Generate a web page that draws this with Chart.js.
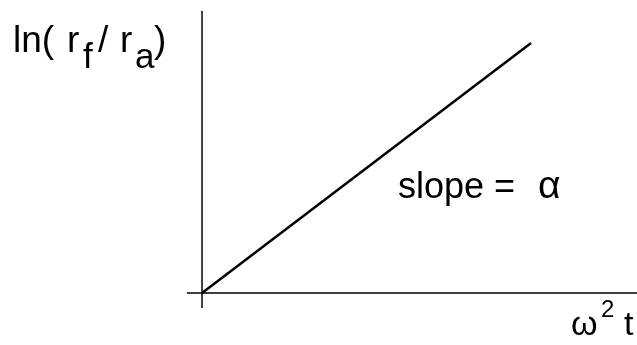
<!DOCTYPE html>
<html>
<head>
<meta charset="utf-8">
<script src="https://cdn.jsdelivr.net/npm/chart.js@4"></script>
<style>
  html, body { margin: 0; padding: 0; background: #fff; }
  #wrap { width: 637px; height: 345px; position: relative; }
</style>
</head>
<body>
<div id="wrap"><canvas id="chart"></canvas></div>
<script>
// schematic: ln(rf/ra) grows linearly with w^2 t
const linePoints = [{ x: 0, y: 0 }, { x: 1, y: 1 }];
const xAxisLine = [{ x: -0.046, y: 0 }, { x: 1.33, y: 0 }];
const yAxisLine = [{ x: 0, y: -0.06 }, { x: 0, y: 1.128 }];
const slopeText = 'slope =';
const slopeSymbol = '\u03b1';

const FONT = '"Liberation Sans", Arial, sans-serif';

// text is drawn by hand so sub/superscripts come out right
function drawRun(ctx, parts) {
  for (const [t, size, x, y] of parts) {
    ctx.font = size + 'px ' + FONT;
    ctx.fillText(t, x, y);
  }
}

const labelsPlugin = {
  id: 'labels',
  afterDraw(chart) {
    const ctx = chart.ctx;
    ctx.save();
    ctx.fillStyle = '#000';
    ctx.textBaseline = 'alphabetic';
    ctx.textAlign = 'left';

    // y title: ln( r_f / r_a)
    drawRun(ctx, [
      ['ln(', 37, 13, 52],
      ['r', 37, 67, 52],
      ['f', 35, 83, 68],
      ['/', 37, 98, 52],
      ['r', 37, 120, 52],
      ['a', 35, 135, 68],
      [')', 37, 154, 52],
    ]);

    // slope label
    drawRun(ctx, [
      [slopeText, 36, 398, 198],
      [slopeSymbol, 39, 538, 198],
    ]);

    // x title: w^2 t
    drawRun(ctx, [
      ['\u03c9', 34, 571, 335],
      ['2', 24, 601, 317],
      ['t', 34, 624, 335],
    ]);
    ctx.restore();
  }
};

new Chart(document.getElementById('chart'), {
  type: 'scatter',
  data: {
    datasets: [
      { data: linePoints, showLine: true, borderColor: '#000', borderWidth: 2.5, pointRadius: 0 },
      { data: xAxisLine, showLine: true, borderColor: '#000', borderWidth: 1.5, pointRadius: 0 },
      { data: yAxisLine, showLine: true, borderColor: '#000', borderWidth: 1.5, pointRadius: 0 },
    ]
  },
  options: {
    responsive: true,
    maintainAspectRatio: false,
    animation: false,
    layout: { padding: 0 },
    plugins: { legend: { display: false }, tooltip: { enabled: false } },
    scales: {
      x: { type: 'linear', min: -0.614, max: 1.322, display: false },
      y: { type: 'linear', min: -0.208, max: 1.172, display: false }
    }
  },
  plugins: [labelsPlugin]
});
</script>
</body>
</html>
